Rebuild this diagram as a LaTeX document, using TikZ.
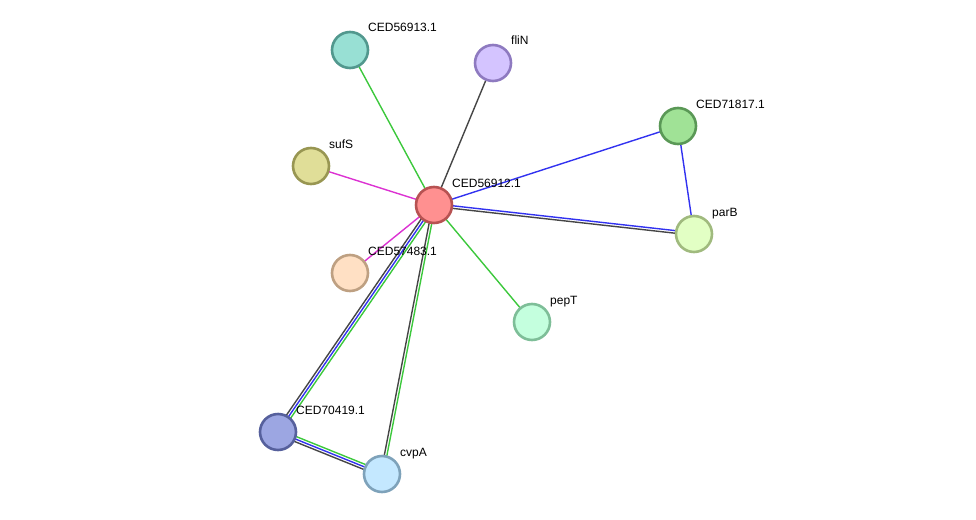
\documentclass[tikz,border=0pt]{standalone}
\usepackage{fontspec}
\setmainfont{Liberation Sans}
\usetikzlibrary{calc,backgrounds}
\definecolor{fcenter}{RGB}{255,144,144}\definecolor{dcenter}{RGB}{183,82,82}
\definecolor{fa}{RGB}{152,224,212}\definecolor{da}{RGB}{82,152,142}
\definecolor{fb}{RGB}{212,196,255}\definecolor{db}{RGB}{142,122,192}
\definecolor{fc}{RGB}{160,226,150}\definecolor{dc}{RGB}{90,152,86}
\definecolor{fd}{RGB}{224,222,152}\definecolor{dd}{RGB}{152,150,82}
\definecolor{fe}{RGB}{226,255,196}\definecolor{de}{RGB}{160,186,126}
\definecolor{ff}{RGB}{255,224,196}\definecolor{df}{RGB}{190,160,130}
\definecolor{fg}{RGB}{196,255,222}\definecolor{dg}{RGB}{126,190,152}
\definecolor{fh}{RGB}{156,166,226}\definecolor{dh}{RGB}{86,96,156}
\definecolor{fi}{RGB}{196,232,255}\definecolor{di}{RGB}{126,162,186}
\definecolor{lgreen}{RGB}{60,200,60}
\definecolor{lblue}{RGB}{50,50,240}
\definecolor{lgray}{RGB}{70,70,70}
\definecolor{lpink}{RGB}{220,50,210}
\tikzset{
    prot/.style={
        circle,
        draw,
        line width=2.6pt,
        minimum size=36pt,
        inner sep=0pt
    },
    edge/.style={
        line width=1.4pt
    },
    lbl/.style={
        anchor=base west,
        font=\fontsize{12}{14}\selectfont,
        inner sep=0pt
    }
}
% one line of an edge, shifted sideways by #2
\newcommand{\bond}[4]{\draw[edge,#1] ($(#3)!#2!90:(#4)$) -- ($(#4)!#2!-90:(#3)$);}

\begin{document}
\begin{tikzpicture}[x=1pt,y=-1pt]
\useasboundingbox (0,0) rectangle (976,519);

\node[prot,fill=fcenter,draw=dcenter] (c56912) at (434,205) {};
\node[prot,fill=fa,draw=da] (c56913) at (350,50) {};
\node[prot,fill=fb,draw=db] (flin) at (493,63) {};
\node[prot,fill=fc,draw=dc] (c71817) at (678,126) {};
\node[prot,fill=fd,draw=dd] (sufs) at (311,166) {};
\node[prot,fill=fe,draw=de] (parb) at (694,234) {};
\node[prot,fill=ff,draw=df] (c57483) at (350,273) {};
\node[prot,fill=fg,draw=dg] (pept) at (532,322) {};
\node[prot,fill=fh,draw=dh] (c70419) at (278,432) {};
\node[prot,fill=fi,draw=di] (cvpa) at (382,474) {};

\begin{scope}[on background layer]
\bond{lgreen}{0pt}{c56912}{c56913}
\bond{lgray}{0pt}{c56912}{flin}
\bond{lblue}{0pt}{c56912}{c71817}
\bond{lblue}{0pt}{c71817}{parb}
\bond{lpink}{0pt}{c56912}{sufs}
\bond{lpink}{0pt}{c56912}{c57483}
\bond{lgreen}{0pt}{c56912}{pept}
\bond{lblue}{1.3pt}{c56912}{parb}
\bond{lgray}{-1.3pt}{c56912}{parb}
\bond{lgray}{-2.6pt}{c56912}{c70419}
\bond{lblue}{0pt}{c56912}{c70419}
\bond{lgreen}{2.6pt}{c56912}{c70419}
\bond{lgray}{-1.3pt}{c56912}{cvpa}
\bond{lgreen}{1.3pt}{c56912}{cvpa}
\bond{lgreen}{2.6pt}{c70419}{cvpa}
\bond{lblue}{0pt}{c70419}{cvpa}
\bond{lgray}{-2.6pt}{c70419}{cvpa}
\end{scope}

% labels, up and right of each circle
\foreach \n/\t in {c56912/CED56912.1, c56913/CED56913.1, flin/fliN,
    c71817/CED71817.1, sufs/sufS, parb/parB, c57483/CED57483.1,
    pept/pepT, c70419/CED70419.1, cvpa/cvpA}
    \node[lbl] at ($(\n)+(18,-18)$) {\t};

\end{tikzpicture}
\end{document}
